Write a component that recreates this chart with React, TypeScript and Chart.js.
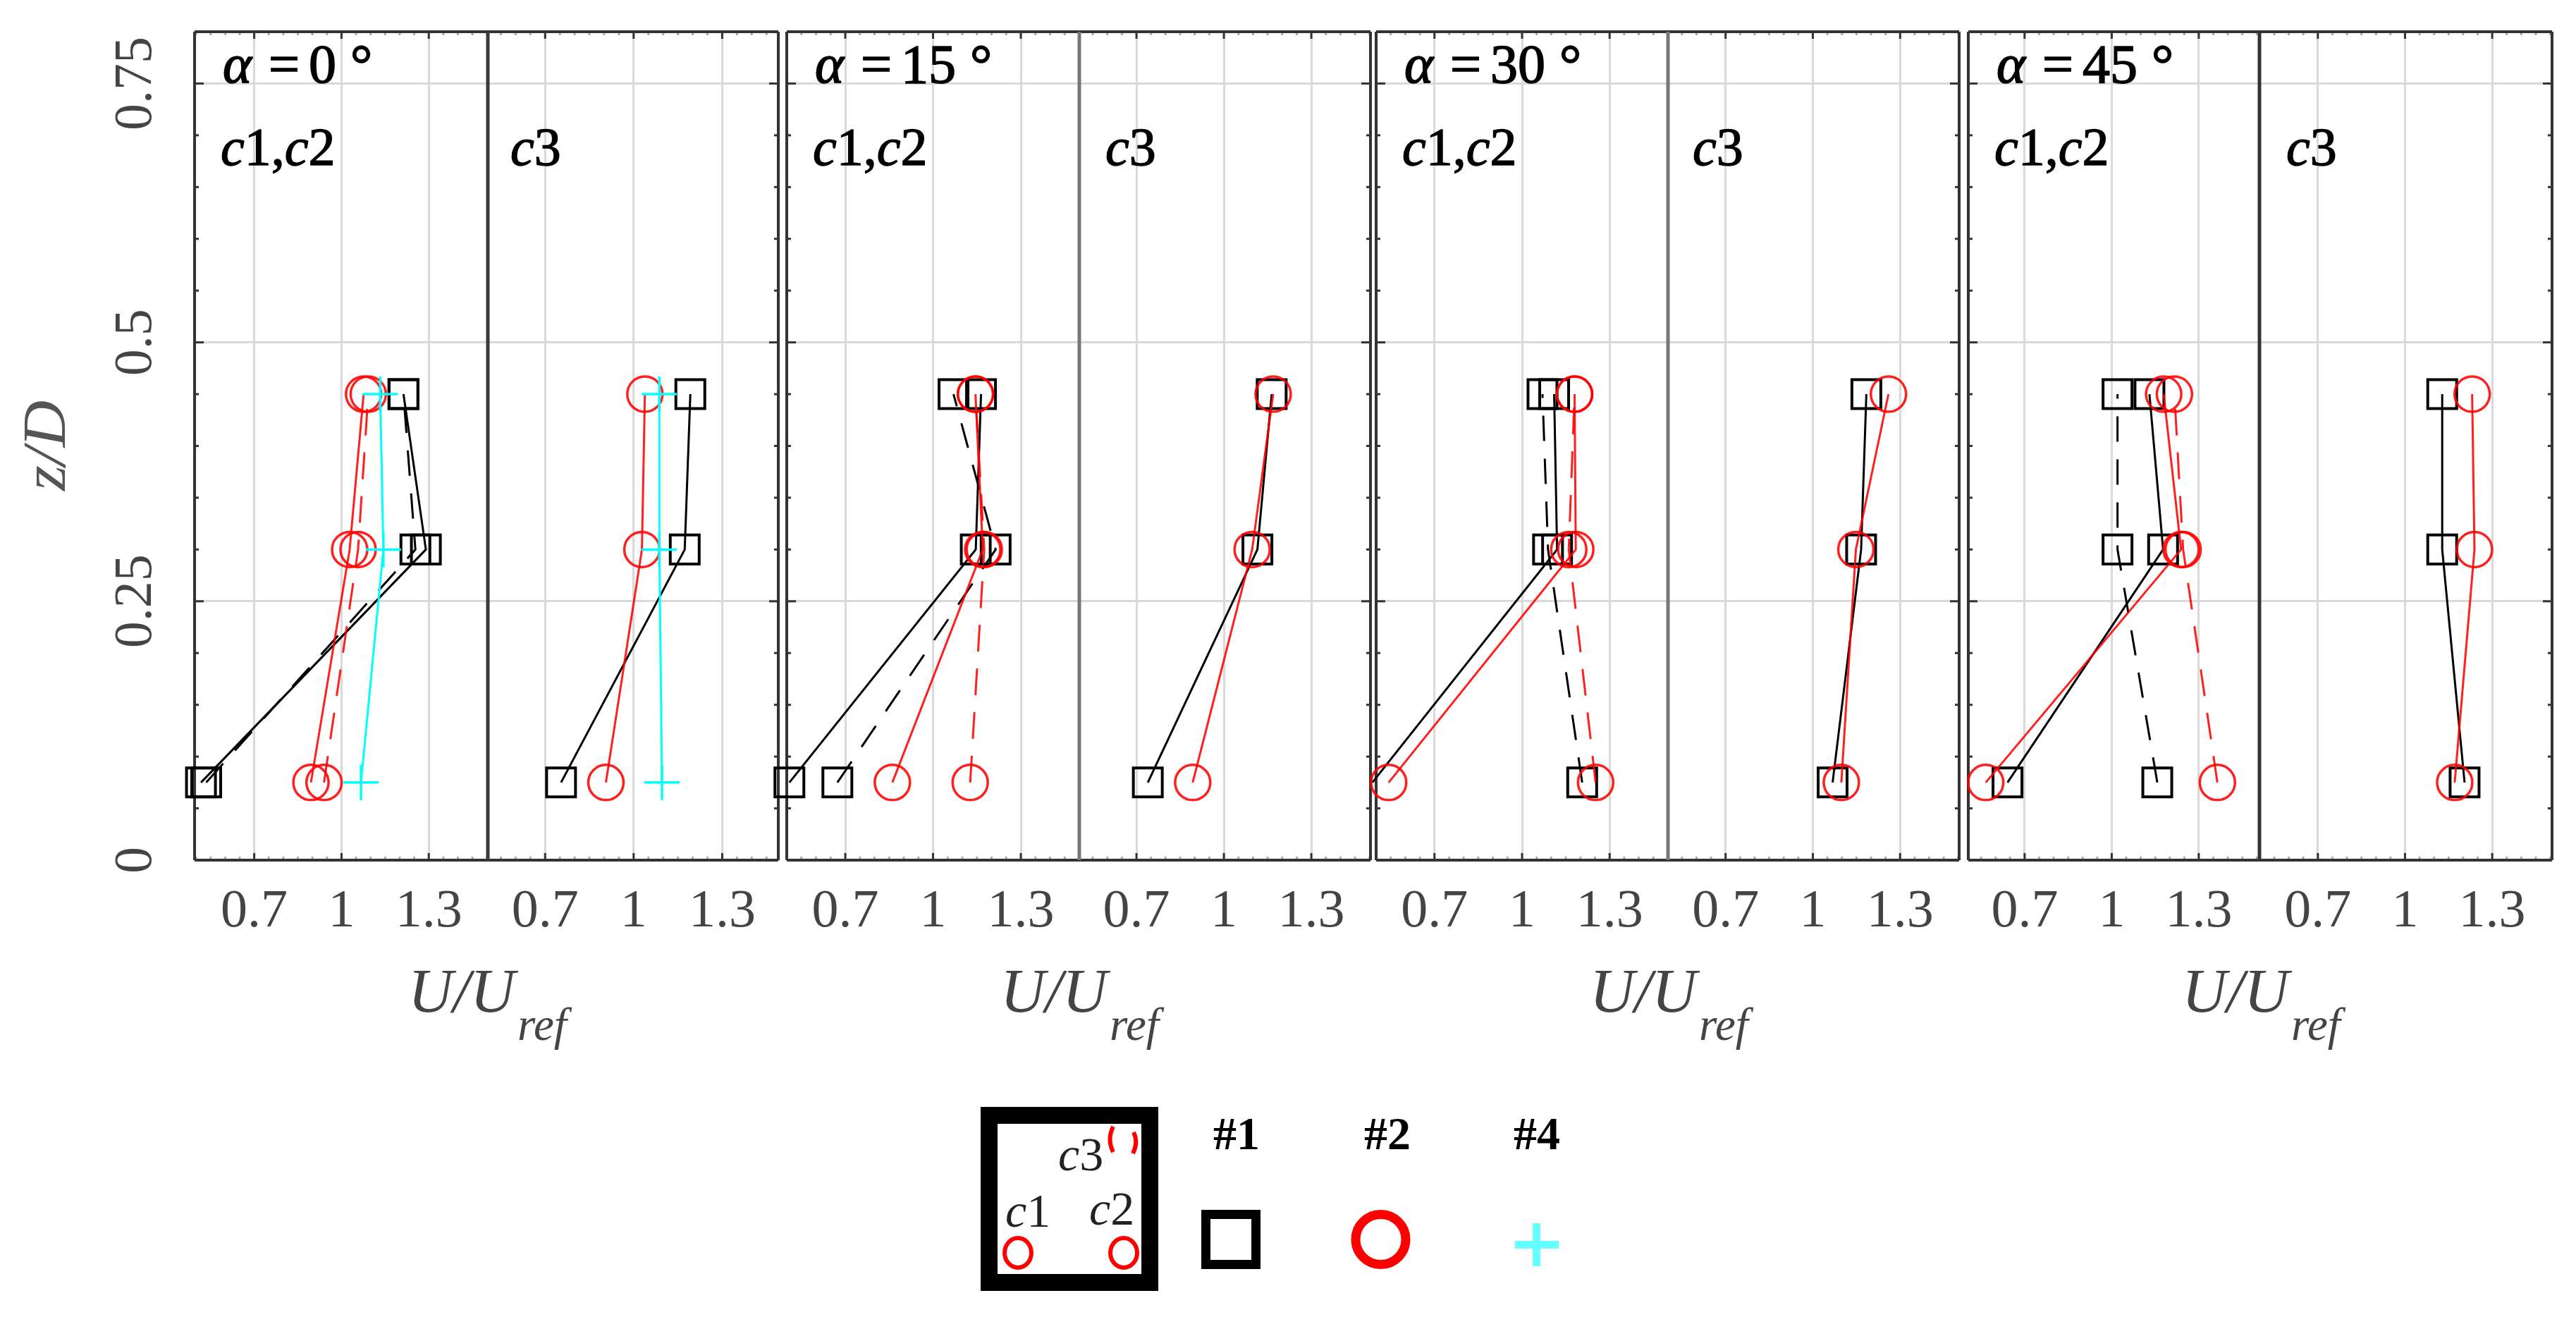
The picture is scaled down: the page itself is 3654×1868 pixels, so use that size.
import React, { useEffect, useRef } from "react";
import { Chart, registerables } from "chart.js";

Chart.register(...registerables);

// ---------- data ----------
const zLevels = [0.075, 0.3, 0.45];
const xMajorTicks = [0.7, 1, 1.3];
const yMajorTicks = [0, 0.25, 0.5, 0.75];
const angleLabels = ["0", "15", "30", "45"];

// alpha = 0
const a0c12BlackSolid = [0.517, 1.29, 1.213];
const a0c12BlackDash = [0.535, 1.254, 1.213];
const a0c12RedSolid = [0.895, 1.028, 1.076];
const a0c12RedDash = [0.94, 1.057, 1.092];
const a0c12Cyan = [1.067, 1.144, 1.133];
const a0c3Black = [0.754, 1.173, 1.192];
const a0c3Red = [0.906, 1.028, 1.038];
const a0c3Cyan = [1.096, 1.087, 1.087];
// alpha = 15
const a15c12BlackSolid = [0.509, 1.146, 1.164];
const a15c12BlackDash = [0.673, 1.214, 1.07];
const a15c12RedSolid = [0.861, 1.17, 1.145];
const a15c12RedDash = [1.127, 1.175, 1.145];
const a15c3Black = [0.739, 1.115, 1.164];
const a15c3Red = [0.893, 1.097, 1.169];
// alpha = 30
const a30c12BlackSolid = [0.487, 1.12, 1.11];
const a30c12BlackDash = [1.206, 1.089, 1.07];
const a30c12RedSolid = [0.543, 1.184, 1.18];
const a30c12RedDash = [1.252, 1.16, 1.18];
const a30c3Black = [1.068, 1.166, 1.184];
const a30c3Red = [1.098, 1.148, 1.26];
// alpha = 45
const a45c12BlackSolid = [0.641, 1.177, 1.13];
const a45c12BlackDash = [1.157, 1.02, 1.02];
const a45c12RedSolid = [0.566, 1.239, 1.179];
const a45c12RedDash = [1.364, 1.246, 1.216];
const a45c3Black = [1.205, 1.128, 1.128];
const a45c3Red = [1.171, 1.239, 1.231];

// ---------- layout ----------
const TOP = 45;
const BOTTOM = 1220;
const CANVAS_H = 1400;
const MARGIN = 60;
const panelLefts = [276, 1116, 1952, 2792];
const c3Offsets = [32, 37, 35, 38];

type Kind = "black" | "blackDash" | "red" | "redDash" | "cyan";
type Half = {
  left: number;
  right: number;
  xMin: number;
  xMax: number;
  isRight: boolean;
  first?: boolean;
  divider?: string;
  series: [Kind, number[]][];
};

const halves: Half[] = [
  { left: 276, right: 692, xMin: 0.495, xMax: 1.503, isRight: false, first: true, series: [["cyan", a0c12Cyan], ["redDash", a0c12RedDash], ["red", a0c12RedSolid], ["blackDash", a0c12BlackDash], ["black", a0c12BlackSolid]] },
  { left: 692, right: 1104, xMin: 0.506, xMax: 1.49, isRight: true, divider: "#3a3a3a", series: [["cyan", a0c3Cyan], ["red", a0c3Red], ["black", a0c3Black]] },
  { left: 1116, right: 1531, xMin: 0.5, xMax: 1.5, isRight: false, series: [["redDash", a15c12RedDash], ["red", a15c12RedSolid], ["blackDash", a15c12BlackDash], ["black", a15c12BlackSolid]] },
  { left: 1531, right: 1944, xMin: 0.504, xMax: 1.503, isRight: true, divider: "#777777", series: [["red", a15c3Red], ["black", a15c3Black]] },
  { left: 1952, right: 2366, xMin: 0.5, xMax: 1.5, isRight: false, series: [["redDash", a30c12RedDash], ["red", a30c12RedSolid], ["blackDash", a30c12BlackDash], ["black", a30c12BlackSolid]] },
  { left: 2366, right: 2779, xMin: 0.502, xMax: 1.503, isRight: true, divider: "#777777", series: [["red", a30c3Red], ["black", a30c3Black]] },
  { left: 2792, right: 3205, xMin: 0.506, xMax: 1.509, isRight: false, series: [["redDash", a45c12RedDash], ["red", a45c12RedSolid], ["blackDash", a45c12BlackDash], ["black", a45c12BlackSolid]] },
  { left: 3205, right: 3620, xMin: 0.499, xMax: 1.506, isRight: true, divider: "#333333", series: [["red", a45c3Red], ["black", a45c3Black]] },
];

const TICK_FONT = { family: "'Liberation Serif', serif", size: 76 };
const LABEL_GREY = "#444444";
const GRID = "#d9d9d9";
const FRAME = "#333333";

function styleFor(kind: Kind) {
  if (kind === "cyan")
    return { color: "#00ffff", pointStyle: "cross", radius: 25, dash: [] as number[], pw: 3.5 };
  if (kind === "red" || kind === "redDash")
    return { color: "rgba(255,0,0,0.88)", pointStyle: "circle", radius: 25, dash: kind === "redDash" ? [38, 24] : [], pw: 3.5 };
  return { color: "#000000", pointStyle: "rect", radius: 29, dash: kind === "blackDash" ? [36, 25] : [], pw: 4 };
}

const isMajor = (list: number[], v: number) => list.some((m) => Math.abs(m - v) < 1e-6);

function HalfChart({ half }: { half: Half }) {
  const ref = useRef<HTMLCanvasElement>(null);
  const yW = half.first ? half.left : MARGIN;
  const width = yW + (half.right - half.left) + MARGIN;

  useEffect(() => {
    const frame = {
      id: "frame",
      beforeDatasetsDraw(chart: any) {
        const { ctx, chartArea: a, scales } = chart;
        ctx.save();
        ctx.lineCap = "butt";
        ctx.lineWidth = 3;
        for (const t of scales.x.ticks) {
          const major = isMajor(xMajorTicks, t.value);
          const px = scales.x.getPixelForValue(t.value);
          const len = major ? 10 : 5;
          ctx.strokeStyle = major ? FRAME : "#aaaaaa";
          ctx.beginPath();
          ctx.moveTo(px, a.bottom);
          ctx.lineTo(px, a.bottom - len);
          ctx.moveTo(px, a.top);
          ctx.lineTo(px, a.top + len);
          ctx.stroke();
        }
        ctx.strokeStyle = FRAME;
        for (const t of scales.y.ticks) {
          const major = isMajor(yMajorTicks, t.value);
          const py = scales.y.getPixelForValue(t.value);
          const len = major ? 13 : 6;
          const x0 = half.isRight ? a.right : a.left;
          const dir = half.isRight ? -1 : 1;
          ctx.beginPath();
          ctx.moveTo(x0, py);
          ctx.lineTo(x0 + dir * len, py);
          ctx.stroke();
        }
        ctx.lineWidth = 4;
        ctx.strokeStyle = FRAME;
        ctx.beginPath();
        ctx.moveTo(a.left, a.top);
        ctx.lineTo(a.right, a.top);
        ctx.moveTo(a.left, a.bottom);
        ctx.lineTo(a.right, a.bottom);
        if (!half.isRight) {
          ctx.moveTo(a.left, a.top);
          ctx.lineTo(a.left, a.bottom);
        } else {
          ctx.moveTo(a.right, a.top);
          ctx.lineTo(a.right, a.bottom);
        }
        ctx.stroke();
        if (half.isRight) {
          ctx.strokeStyle = half.divider;
          ctx.lineWidth = 5;
          ctx.beginPath();
          ctx.moveTo(a.left, a.top);
          ctx.lineTo(a.left, a.bottom);
          ctx.stroke();
        }
        ctx.restore();
      },
    };

    const chart = new Chart(ref.current as HTMLCanvasElement, {
      type: "line",
      data: {
        datasets: half.series.map(([kind, values]) => {
          const s = styleFor(kind);
          return {
            label: kind,
            data: values.map((x, i) => ({ x, y: zLevels[i] })),
            borderColor: s.color,
            borderWidth: 3,
            borderDash: s.dash,
            tension: 0,
            fill: false,
            clip: false,
            pointStyle: s.pointStyle,
            pointRadius: (ctx: any) => (ctx.raw && ctx.raw.x < half.xMin ? 0 : s.radius),
            pointBorderColor: s.color,
            pointBackgroundColor: "transparent",
            pointBorderWidth: s.pw,
          };
        }),
      } as any,
      plugins: [frame],
      options: {
        animation: false,
        responsive: false,
        devicePixelRatio: 1,
        layout: { autoPadding: false, padding: { top: TOP, right: MARGIN, left: 0, bottom: 0 } },
        plugins: { legend: { display: false }, title: { display: false }, tooltip: { enabled: false } },
        scales: {
          x: {
            type: "linear",
            min: half.xMin,
            max: half.xMax,
            afterBuildTicks(scale: any) {
              const out: { value: number }[] = [];
              for (let i = 10; i <= 31; i++) {
                const v = Math.round(i * 5) / 100;
                if (v >= half.xMin && v <= half.xMax) out.push({ value: v });
              }
              scale.ticks = out;
            },
            afterFit(scale: any) {
              scale.height = CANVAS_H - BOTTOM;
              scale.paddingLeft = 0;
              scale.paddingRight = 0;
            },
            grid: {
              drawTicks: false,
              lineWidth: 3,
              color: (c: any) => (c.tick && isMajor(xMajorTicks, c.tick.value) ? GRID : "transparent"),
            },
            border: { display: false },
            ticks: {
              autoSkip: false,
              maxRotation: 0,
              minRotation: 0,
              padding: 28,
              color: LABEL_GREY,
              font: TICK_FONT,
              callback: (v: any) => (isMajor(xMajorTicks, Number(v)) ? String(Number(v)) : ""),
            },
          },
          y: {
            type: "linear",
            min: 0,
            max: 0.8,
            afterBuildTicks(scale: any) {
              const out: { value: number }[] = [];
              for (let i = 0; i <= 16; i++) out.push({ value: Math.round(i * 5) / 100 });
              scale.ticks = out;
            },
            afterFit(scale: any) {
              scale.width = yW;
              scale.paddingTop = 0;
              scale.paddingBottom = 0;
            },
            grid: {
              drawTicks: false,
              lineWidth: 3,
              color: (c: any) =>
                c.tick && c.tick.value > 0 && isMajor(yMajorTicks, c.tick.value) ? GRID : "transparent",
            },
            border: { display: false },
            ticks: {
              display: !!half.first,
              autoSkip: false,
              minRotation: 90,
              maxRotation: 90,
              crossAlign: "center",
              padding: 15,
              color: LABEL_GREY,
              font: TICK_FONT,
              callback: (v: any) => (isMajor(yMajorTicks, Number(v)) ? String(Number(v)) : ""),
            },
          },
        },
      } as any,
    });
    return () => chart.destroy();
  }, []);

  return (
    <canvas
      ref={ref}
      width={width}
      height={CANVAS_H}
      style={{ position: "absolute", left: half.left - yW, top: 0, width, height: CANVAS_H }}
    />
  );
}

const SERIF = "'Liberation Serif', serif";

function Annotations() {
  return (
    <svg
      width={3654}
      height={1868}
      viewBox="0 0 3654 1868"
      style={{ position: "absolute", left: 0, top: 0, display: "block", pointerEvents: "none" }}
      fontFamily={SERIF}
    >
      {panelLefts.map((pl, i) => {
        const half = halves[i * 2 + 1];
        return (
          <g key={pl}>
            <text x={pl + 40} y={117} fontSize={78} fill="#000" stroke="#000" strokeWidth={1.6}>
              <tspan fontStyle="italic">α</tspan>
              <tspan x={pl + 105}>=</tspan>
              <tspan x={pl + 162}>{angleLabels[i]}</tspan>
              <tspan dx={20}>°</tspan>
            </text>
            <text x={pl + 37} y={234} fontSize={76} fill="#000" stroke="#000" strokeWidth={1.4}>
              <tspan fontStyle="italic">c</tspan>1,<tspan fontStyle="italic">c</tspan>2
            </text>
            <text x={half.left + c3Offsets[i]} y={234} fontSize={76} fill="#000" stroke="#000" strokeWidth={1.4}>
              <tspan fontStyle="italic">c</tspan>3
            </text>
            <text x={pl + 303} y={1435} fontSize={88} fontStyle="italic" fill={LABEL_GREY}>
              U/U
            </text>
            <text x={pl + 458} y={1475} fontSize={65} fontStyle="italic" fill={LABEL_GREY}>
              ref
            </text>
          </g>
        );
      })}

      <text
        transform="translate(92 696) rotate(-90)"
        fontSize={86}
        fontStyle="italic"
        fill="#555555"
        textLength={128}
        lengthAdjust="spacingAndGlyphs"
      >
        z/D
      </text>

      {/* column schematic */}
      <rect x={1403} y={1582} width={228} height={237} fill="#fff" stroke="#000" strokeWidth={24} />
      <ellipse cx={1444} cy={1777} rx={19} ry={21} fill="none" stroke="#ff0000" strokeWidth={6} />
      <ellipse cx={1594} cy={1777} rx={19} ry={21} fill="none" stroke="#ff0000" strokeWidth={6} />
      <path d="M1579 1598 Q1570 1616 1579 1634 M1608 1606 Q1615 1620 1607 1636" fill="none" stroke="#ff0000" strokeWidth={6} />
      <text x={1501} y={1660} fontSize={68} fill="#222">
        <tspan fontStyle="italic">c</tspan>3
      </text>
      <text x={1426} y={1740} fontSize={68} fill="#222">
        <tspan fontStyle="italic">c</tspan>1
      </text>
      <text x={1545} y={1737} fontSize={68} fill="#222">
        <tspan fontStyle="italic">c</tspan>2
      </text>

      {/* legend */}
      <text x={1721} y={1630} fontSize={66} fontWeight="bold" fill="#000">#1</text>
      <text x={1935} y={1630} fontSize={66} fontWeight="bold" fill="#000">#2</text>
      <text x={2147} y={1630} fontSize={66} fontWeight="bold" fill="#000">#4</text>
      <rect x={1710.5} y={1722.5} width={71} height={71} fill="none" stroke="#000" strokeWidth={13} />
      <circle cx={1958.5} cy={1758} r={35.5} fill="none" stroke="#ff0000" strokeWidth={13} />
      <rect x={2149} y={1760} width={62} height={11} fill="#66ffff" />
      <rect x={2174} y={1735} width={11} height={61} fill="#66ffff" />
    </svg>
  );
}

export default function App() {
  return (
    <div style={{ position: "absolute", left: 0, top: 0, width: 3654, height: 1868, background: "#fff", overflow: "hidden" }}>
      {halves.map((h) => (
        <HalfChart key={h.left} half={h} />
      ))}
      <Annotations />
    </div>
  );
}
